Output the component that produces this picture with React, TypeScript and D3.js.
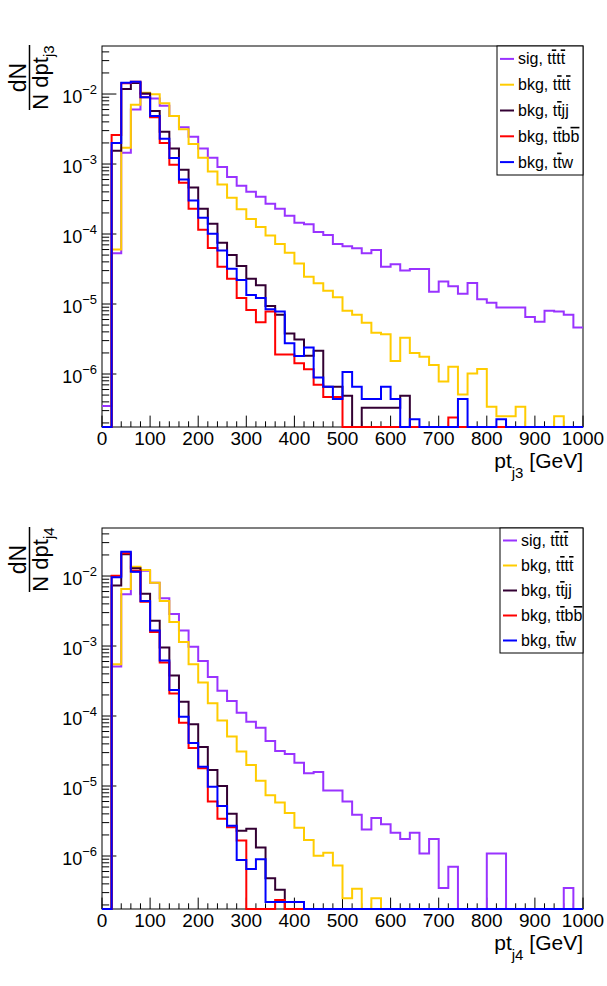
import React from 'react';
import * as d3 from 'd3';

// ---------- data ----------
const binEdges = d3.range(0, 1001, 20); // 50 bins of 20 GeV, 0..1000
const xTicks = [0, 100, 200, 300, 400, 500, 600, 700, 800, 900, 1000];
const yDecades = [-2, -3, -4, -5, -6];

const seriesNames = ['sig, tttt', 'bkg, tttt', 'bkg, ttjj', 'bkg, ttbb', 'bkg, ttw'];
const seriesColors = ['#9933ff', '#ffcc00', '#330033', '#ff0000', '#0000ff'];

// legend label pieces: [text, overline?]
const legendLabels: [string, boolean][][] = [
  [['sig, t', false], ['t', true], ['t', false], ['t', true]],
  [['bkg, t', false], ['t', true], ['t', false], ['t', true]],
  [['bkg, t', false], ['t', true], ['jj', false]],
  [['bkg, t', false], ['t', true], ['b', false], ['b', true]],
  [['bkg, t', false], ['t', true], ['w', false]],
];

// pt_j3
const j3Sig = [
  3.5e-7, 5.3e-5, 1.45e-3, 6.0e-3, 1.0e-2, 8.6e-3, 6.8e-3, 4.85e-3, 3.34e-3, 2.45e-3,
  1.66e-3, 1.23e-3, 9.1e-4, 6.5e-4, 4.9e-4, 4.0e-4, 3.4e-4, 2.7e-4, 2.3e-4, 1.82e-4,
  1.45e-4, 1.38e-4, 1.07e-4, 9.7e-5, 7.2e-5, 6.7e-5, 6.25e-5, 5.3e-5, 5.9e-5, 3.4e-5,
  3.7e-5, 3.0e-5, 3.16e-5, 3.16e-5, 1.5e-5, 2.1e-5, 1.8e-5, 1.4e-5, 2.0e-5, 1.17e-5,
  1.04e-5, 8.9e-6, 8.9e-6, 8.9e-6, 6.5e-6, 5.6e-6, 8.0e-6, 7.8e-6, 7.0e-6, 4.6e-6,
];
const j3Tttt = [
  0, 6.0e-5, 1.71e-3, 7.0e-3, 1.04e-2, 9.9e-3, 7.4e-3, 4.85e-3, 3.13e-3, 1.93e-3,
  1.23e-3, 7.8e-4, 5.1e-4, 3.3e-4, 2.25e-4, 1.64e-4, 1.26e-4, 9.5e-5, 7.2e-5, 5.4e-5,
  3.8e-5, 2.45e-5, 1.98e-5, 1.55e-5, 1.25e-5, 8.0e-6, 7.0e-6, 5.4e-6, 3.9e-6, 3.7e-6,
  1.53e-6, 3.3e-6, 2.0e-6, 1.77e-6, 1.35e-6, 7.8e-7, 1.27e-6, 5.1e-7, 1.02e-6, 1.18e-6,
  3.4e-7, 2.5e-7, 2.5e-7, 3.4e-7, 0, 0, 0, 2.5e-7, 0, 0,
];
const j3Ttjj = [
  0, 1.55e-3, 1.18e-2, 1.44e-2, 1.02e-2, 5.7e-3, 2.9e-3, 1.66e-3, 8.3e-4, 4.6e-4,
  2.3e-4, 1.4e-4, 7.5e-5, 5.0e-5, 3.5e-5, 2.3e-5, 1.85e-5, 9.4e-6, 7.0e-6, 3.8e-6,
  3.1e-6, 1.82e-6, 2.15e-6, 6.6e-7, 6.6e-7, 4.9e-7, 0, 3.3e-7, 3.3e-7, 3.3e-7,
  3.3e-7, 4.9e-7, 0, 0, 0, 0, 0, 0, 0, 0,
  0, 0, 0, 0, 0, 0, 0, 0, 0, 0,
];
const j3Ttbb = [
  0, 2.6e-3, 1.42e-2, 1.5e-2, 9.0e-3, 4.65e-3, 2.0e-3, 9.8e-4, 5.4e-4, 2.3e-4,
  1.15e-4, 6.3e-5, 3.4e-5, 2.3e-5, 1.22e-5, 8.2e-6, 5.5e-6, 7.8e-6, 1.9e-6, 1.9e-6,
  1.42e-6, 1.17e-6, 7.0e-7, 4.7e-7, 4.7e-7, 0, 0, 0, 0, 0,
  0, 0, 0, 0, 0, 0, 2.4e-7, 0, 0, 0,
  0, 0, 0, 0, 0, 0, 0, 0, 0, 0,
];
const j3Ttw = [
  0, 2.0e-3, 1.45e-2, 1.5e-2, 9.0e-3, 4.85e-3, 2.3e-3, 1.22e-3, 6.0e-4, 3.0e-4,
  1.71e-4, 1.01e-4, 5.8e-5, 3.2e-5, 2.2e-5, 1.35e-5, 1.22e-5, 8.4e-6, 7.8e-6, 2.75e-6,
  1.81e-6, 2.4e-6, 8.9e-7, 6.6e-7, 4.4e-7, 1.07e-6, 6.6e-7, 4.4e-7, 4.4e-7, 6.6e-7,
  4.4e-7, 0, 2.25e-7, 0, 0, 0, 0, 4.4e-7, 0, 0,
  0, 2.25e-7, 0, 0, 0, 0, 0, 0, 0, 0,
];

// pt_j4
const j4Sig = [
  0, 5.1e-4, 5.5e-3, 1.15e-2, 1.19e-2, 8.0e-3, 4.8e-3, 2.86e-3, 1.66e-3, 9.8e-4,
  6.1e-4, 3.6e-4, 2.3e-4, 1.64e-4, 1.11e-4, 8.3e-5, 6.8e-5, 4.4e-5, 3.16e-5, 2.86e-5,
  2.15e-5, 1.52e-5, 1.58e-5, 8.6e-6, 8.6e-6, 6.0e-6, 3.9e-6, 2.4e-6, 3.5e-6, 2.84e-6,
  2.15e-6, 1.75e-6, 2.15e-6, 1.09e-6, 1.75e-6, 3.5e-7, 7.0e-7, 0, 0, 0,
  1.09e-6, 1.09e-6, 0, 0, 0, 0, 0, 0, 3.5e-7, 0,
];
const j4Tttt = [
  0, 5.5e-4, 6.5e-3, 1.36e-2, 1.22e-2, 8.0e-3, 4.4e-3, 2.2e-3, 1.14e-3, 5.5e-4,
  3.0e-4, 1.52e-4, 8.6e-5, 5.1e-5, 3.1e-5, 2.0e-5, 1.19e-5, 7.4e-6, 5.8e-6, 4.1e-6,
  2.54e-6, 1.69e-6, 1.01e-6, 1.11e-6, 7.3e-7, 2.5e-7, 3.4e-7, 0, 2.5e-7, 0,
  0, 0, 0, 0, 0, 0, 0, 0, 0, 0,
  0, 0, 0, 0, 0, 0, 0, 0, 0, 0,
];
const j4Ttjj = [
  0, 7.3e-3, 2.04e-2, 1.29e-2, 5.6e-3, 2.3e-3, 9.5e-4, 3.8e-4, 1.6e-4, 7.6e-5,
  3.6e-5, 1.69e-5, 1.0e-5, 4.0e-6, 2.3e-6, 2.45e-6, 1.32e-6, 4.8e-7, 3.3e-7, 0,
  0, 0, 0, 0, 0, 0, 0, 0, 0, 0,
  0, 0, 0, 0, 0, 0, 0, 0, 0, 0,
  0, 0, 0, 0, 0, 0, 0, 0, 0, 0,
];
const j4Ttbb = [
  0, 1.01e-2, 2.11e-2, 1.19e-2, 4.3e-3, 1.58e-3, 5.8e-4, 2.1e-4, 8.0e-5, 3.5e-5,
  1.79e-5, 6.0e-6, 3.4e-6, 2.57e-6, 1.66e-6, 0, 0, 0, 2.35e-7, 0,
  0, 0, 0, 0, 0, 0, 0, 0, 0, 0,
  0, 0, 0, 0, 0, 0, 0, 0, 0, 0,
  0, 0, 0, 0, 0, 0, 0, 0, 0, 0,
];
const j4Ttw = [
  0, 9.6e-3, 2.22e-2, 1.15e-2, 4.4e-3, 1.66e-3, 6.2e-4, 2.35e-4, 9.8e-5, 4.1e-5,
  1.89e-5, 9.8e-6, 5.2e-6, 2.7e-6, 8.8e-7, 6.5e-7, 9.0e-7, 2.2e-7, 2.2e-7, 2.2e-7,
  2.2e-7, 0, 0, 0, 0, 0, 0, 0, 0, 0,
  0, 0, 0, 0, 0, 0, 0, 0, 0, 0,
  0, 0, 0, 0, 0, 0, 0, 0, 0, 0,
];

// ---------- layout ----------
const Y_MIN = Math.pow(10, -6.757);
const Y_MAX = Math.pow(10, -1.314);
const FONT = "'Liberation Sans', Arial, Helvetica, sans-serif";
const FX0 = 102;
const FX1 = 583;

type PanelProps = {
  id: string;
  y0: number;
  y1: number;
  sub: string;
  data: number[][];
  legendX: number;
  legendH: number;
};

function Panel({ id, y0, y1, sub, data, legendX, legendH }: PanelProps) {
  const x = d3.scaleLinear().domain([0, 1000]).range([FX0, FX1]);
  const y = d3.scaleLog().domain([Y_MIN, Y_MAX]).range([y1, y0]).clamp(true);
  const line = d3
    .line<[number, number]>()
    .x((d) => x(d[0]))
    .y((d) => y(d[1] > 0 ? d[1] : Y_MIN))
    .curve(d3.curveStepAfter);

  const minorX = binEdges.filter((v) => v % 100 !== 0);
  const minorY: number[] = [];
  for (let k = -7; k <= -1; k++) {
    for (let m = 2; m <= 9; m++) {
      const v = m * Math.pow(10, k);
      if (v > Y_MIN && v < Y_MAX) minorY.push(v);
    }
  }
  const xTickLen = 11.4;
  const yTickLen = 14.4;
  const yc = y0 + 31.5;

  return (
    <g>
      <defs>
        <clipPath id={`clip-${id}`}>
          <rect x={FX0} y={y0} width={FX1 - FX0} height={y1 - y0 + 1.5} />
        </clipPath>
      </defs>
      {/* frame */}
      <rect x={FX0} y={y0} width={FX1 - FX0} height={y1 - y0} fill="none" stroke="#000" strokeWidth={1} />
      {/* x ticks */}
      {xTicks.map((t) => (
        <line key={`xt${t}`} x1={x(t)} x2={x(t)} y1={y1} y2={y1 - xTickLen} stroke="#000" strokeWidth={1} />
      ))}
      {minorX.map((t) => (
        <line key={`xm${t}`} x1={x(t)} x2={x(t)} y1={y1} y2={y1 - xTickLen / 2} stroke="#000" strokeWidth={1} />
      ))}
      {/* y ticks */}
      {yDecades.map((k) => (
        <line key={`yt${k}`} x1={FX0} x2={FX0 + yTickLen} y1={y(Math.pow(10, k))} y2={y(Math.pow(10, k))} stroke="#000" strokeWidth={1} />
      ))}
      {minorY.map((v, i) => (
        <line key={`ym${i}`} x1={FX0} x2={FX0 + yTickLen / 2} y1={y(v)} y2={y(v)} stroke="#000" strokeWidth={1} />
      ))}
      {/* x tick labels */}
      {xTicks.map((t) => (
        <text key={`xl${t}`} x={x(t)} y={y1 + 18} fontSize={19} textAnchor="middle" fill="#000">
          {t}
        </text>
      ))}
      {/* y tick labels */}
      {yDecades.map((k) => (
        <text key={`yl${k}`} x={97} y={y(Math.pow(10, k)) + 9} fontSize={18} textAnchor="end" fill="#000">
          <tspan>10</tspan>
          <tspan fontSize={13} dy={-9}>{`\u2212${-k}`}</tspan>
        </text>
      ))}
      {/* x title */}
      <text x={FX1} y={y1 + 41} fontSize={21} textAnchor="end" fill="#000">
        <tspan>pt</tspan>
        <tspan fontSize={15} dy={10}>{sub}</tspan>
        <tspan dy={-10}> [GeV]</tspan>
      </text>
      {/* y title */}
      <g transform={`translate(0,${yc}) rotate(-90)`}>
        <text x={0} y={26} fontSize={23} textAnchor="middle" fill="#000">dN</text>
        <line x1={-32.5} x2={32.5} y1={29.5} y2={29.5} stroke="#000" strokeWidth={1.5} />
        <text x={0} y={48} fontSize={22} textAnchor="middle" fill="#000">
          <tspan>N dpt</tspan>
          <tspan fontSize={15} dy={6}>{sub}</tspan>
        </text>
      </g>
      {/* histograms */}
      <g clipPath={`url(#clip-${id})`}>
        {data.map((vals, si) => {
          const pts: [number, number][] = vals.map((v, i) => [binEdges[i], v] as [number, number]);
          pts.push([binEdges[vals.length], vals[vals.length - 1]]);
          return (
            <path key={`h${si}`} d={line(pts) || ''} fill="none" stroke={seriesColors[si]} strokeWidth={2} />
          );
        })}
      </g>
      {/* legend */}
      <g>
        <rect x={legendX} y={y0} width={FX1 - legendX} height={legendH} fill="#fff" stroke="#000" strokeWidth={1} />
        {seriesNames.map((name, i) => {
          const ry = y0 + (legendH * (i + 0.5)) / 5;
          return (
            <g key={`lg${i}`}>
              <line x1={legendX + 3} x2={legendX + 17} y1={ry} y2={ry} stroke={seriesColors[i]} strokeWidth={2} />
              <text x={legendX + 21} y={ry + 5.5} fontSize={16} fill="#000" aria-label={name}>
                {legendLabels[i].map(([s, o], j) => (
                  <tspan key={j} style={o ? { textDecoration: 'overline' } : undefined}>
                    {s}
                  </tspan>
                ))}
              </text>
            </g>
          );
        })}
      </g>
    </g>
  );
}

export default function App() {
  return (
    <svg
      width={607}
      height={986}
      style={{ position: 'absolute', left: 0, top: 0 }}
      fontFamily={FONT}
    >
      <rect x={0} y={0} width={607} height={986} fill="#fff" />
      <Panel
        id="j3"
        y0={46}
        y1={427}
        sub="j3"
        data={[j3Sig, j3Tttt, j3Ttjj, j3Ttbb, j3Ttw]}
        legendX={497}
        legendH={129}
      />
      <Panel
        id="j4"
        y0={528}
        y1={909}
        sub="j4"
        data={[j4Sig, j4Tttt, j4Ttjj, j4Ttbb, j4Ttw]}
        legendX={500}
        legendH={125}
      />
    </svg>
  );
}
